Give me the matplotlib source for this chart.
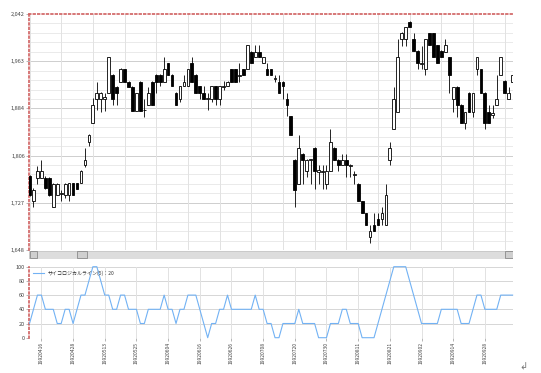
import numpy as np
import matplotlib
matplotlib.use('Agg')
import matplotlib.pyplot as plt
from matplotlib.patches import Rectangle

plt.rcParams['font.family'] = ['Noto Sans CJK JP', 'DejaVu Sans']

# daily candles
opens = [1771, 1729, 1769, 1769, 1769, 1769, 1720, 1740, 1741, 1740,
         1740, 1760, 1760, 1760, 1790, 1829, 1860, 1900, 1900, 1900,
         1910, 1940, 1920, 1929, 1950, 1929, 1920, 1880, 1929, 1881,
         1890, 1929, 1940, 1940, 1929, 1960, 1940, 1910, 1900, 1921,
         1921, 1960, 1940, 1921, 1910, 1900, 1900, 1921, 1900, 1920,
         1921, 1950, 1950, 1939, 1950, 1950, 1979, 1970, 1979, 1960,
         1950, 1950, 1934, 1929, 1929, 1900, 1871, 1799, 1759, 1809,
         1780, 1798, 1819, 1779, 1779, 1759, 1780, 1819, 1799, 1790,
         1799, 1789, 1774, 1759, 1729, 1709, 1670, 1690, 1700, 1700,
         1690, 1798, 1850, 1879, 2000, 2000, 2029, 2000, 1981, 1959,
         1950, 2010, 2010, 1990, 1981, 1979, 1970, 1900, 1920, 1890,
         1860, 1910, 1879, 1950, 1950, 1910, 1879, 1874, 1890, 1940,
         1930, 1900, 1929]
highs = [1773, 1752, 1788, 1798, 1772, 1770, 1760, 1760, 1748, 1760,
         1760, 1760, 1760, 1781, 1818, 1841, 1901, 1929, 1911, 1910,
         1970, 1941, 1921, 1952, 1951, 1930, 1921, 1910, 1930, 1900,
         1920, 1930, 1941, 1941, 1970, 1961, 1941, 1911, 1921, 1940,
         1950, 1970, 1941, 1922, 1921, 1910, 1921, 1922, 1921, 1930,
         1930, 1951, 1951, 1960, 1951, 1990, 1980, 1990, 1990, 1970,
         1960, 1951, 1940, 1940, 1930, 1910, 1872, 1800, 1840, 1810,
         1800, 1800, 1820, 1790, 1790, 1790, 1850, 1820, 1800, 1809,
         1809, 1791, 1780, 1760, 1730, 1710, 1690, 1709, 1709, 1720,
         1759, 1829, 1920, 2000, 2012, 2021, 2030, 2010, 1982, 1988,
         2000, 2011, 2011, 1991, 1982, 2000, 1971, 1920, 1921, 1891,
         1879, 1911, 1910, 1970, 1951, 1911, 1890, 1890, 1940, 1970,
         1931, 1920, 1940]
lows = [1738, 1720, 1759, 1769, 1750, 1738, 1720, 1740, 1729, 1734,
        1730, 1740, 1750, 1760, 1787, 1821, 1860, 1882, 1878, 1880,
        1910, 1890, 1890, 1929, 1929, 1920, 1880, 1880, 1880, 1870,
        1890, 1890, 1910, 1921, 1929, 1940, 1921, 1890, 1895, 1921,
        1921, 1929, 1910, 1900, 1900, 1881, 1895, 1890, 1890, 1915,
        1921, 1929, 1929, 1929, 1940, 1950, 1960, 1970, 1970, 1960,
        1940, 1940, 1929, 1910, 1900, 1871, 1840, 1720, 1759, 1759,
        1770, 1759, 1750, 1759, 1750, 1750, 1780, 1799, 1780, 1790,
        1770, 1770, 1759, 1729, 1709, 1690, 1660, 1680, 1690, 1690,
        1690, 1790, 1850, 1879, 1988, 1988, 2020, 1981, 1951, 1951,
        1940, 1990, 1970, 1960, 1970, 1979, 1910, 1879, 1870, 1860,
        1850, 1879, 1870, 1940, 1910, 1850, 1860, 1868, 1890, 1940,
        1910, 1900, 1929]
closes = [1740, 1749, 1780, 1780, 1751, 1740, 1759, 1759, 1743, 1759,
          1760, 1740, 1750, 1780, 1799, 1840, 1890, 1910, 1910, 1903,
          1970, 1900, 1910, 1950, 1929, 1920, 1880, 1910, 1880, 1882,
          1910, 1890, 1929, 1929, 1950, 1940, 1921, 1890, 1921, 1929,
          1950, 1929, 1910, 1910, 1900, 1902, 1921, 1900, 1921, 1922,
          1929, 1929, 1929, 1940, 1940, 1990, 1960, 1979, 1970, 1970,
          1940, 1940, 1935, 1910, 1921, 1890, 1840, 1748, 1819, 1799,
          1799, 1800, 1780, 1781, 1780, 1780, 1829, 1799, 1790, 1799,
          1790, 1790, 1775, 1729, 1709, 1690, 1680, 1680, 1690, 1709,
          1740, 1818, 1900, 1970, 2010, 2020, 2020, 1981, 1960, 1960,
          2000, 1990, 1970, 1960, 1970, 1990, 1940, 1920, 1890, 1860,
          1879, 1879, 1910, 1970, 1910, 1860, 1860, 1876, 1900, 1970,
          1910, 1910, 1940]

# psychological line (5)
psy = [20, 40, 60, 60, 40, 40, 40, 20, 20, 40,
       40, 20, 40, 60, 60, 80, 100, 100, 80, 60,
       60, 40, 40, 60, 60, 40, 40, 40, 20, 20,
       40, 40, 40, 40, 60, 40, 40, 20, 40, 40,
       60, 60, 60, 40, 20, 0, 20, 20, 40, 40,
       60, 40, 40, 40, 40, 40, 40, 60, 40, 40,
       20, 20, 0, 0, 20, 20, 20, 20, 40, 20,
       20, 20, 20, 0, 0, 0, 20, 20, 20, 40,
       40, 20, 20, 20, 0, 0, 0, 0, 20, 40,
       60, 80, 100, 100, 100, 100, 80, 60, 40, 20,
       20, 20, 20, 20, 40, 40, 40, 40, 40, 20,
       20, 20, 40, 60, 60, 40, 40, 40, 40, 60,
       60, 60, 60]

tick_dates = ['19920416', '19920428', '19920513', '19920525', '19920604',
              '19920616', '19920626', '19920708', '19920720', '19920730',
              '19920811', '19920821', '19920902', '19920914', '19920928']
price_ticks = [1648, 1726.8, 1805.6, 1884.4, 1963.2, 2042]
psy_ticks = [0, 20, 40, 60, 80, 100]

W, H = 541, 373
fig = plt.figure(figsize=(W / 100, H / 100), dpi=100)
fig.patch.set_facecolor('white')

def pos(x0, y0, x1, y1):
    return [x0 / W, 1 - y1 / H, (x1 - x0) / W, (y1 - y0) / H]

n = len(closes)
xx = np.arange(n)
xlim = (-0.13, 122.1)
tick_idx = [3 + 8 * k for k in range(len(tick_dates))]
txt_col = '#444444'
red = '#d06060'

# ---- price panel
ax = fig.add_axes(pos(29, 14, 513, 250))
ax.set_xlim(*xlim)
ax.set_ylim(price_ticks[0], price_ticks[-1])
for v in np.linspace(price_ticks[0], price_ticks[-1], 26)[1:-1]:
    ax.axhline(v, color='#e6e6e6', lw=0.6, zorder=0)
for v in price_ticks[1:-1]:
    ax.axhline(v, color='#cfcfcf', lw=0.7, zorder=0)
for i in range(0, n, 8):
    ax.axvline(i, color='#e2e2e2', lw=0.7, zorder=0)

o = np.array(opens, float)
c = np.array(closes, float)
up = c >= o
ax.vlines(xx, lows, highs, color='black', lw=0.6, zorder=2)
bottoms = np.minimum(o, c)
heights = np.maximum(np.abs(c - o), 1.0)
ax.bar(xx, heights, bottom=bottoms, width=0.7,
       color=np.where(up, 'white', 'black'), edgecolor='black', lw=0.6, zorder=3)

ax.set_xticks([])
ax.set_yticks(price_ticks)
ax.set_yticklabels(['{:,}'.format(int(round(v))) for v in price_ticks])
ax.tick_params(axis='y', labelsize=4, colors='#999999', labelcolor=txt_col,
               length=2, width=0.5, pad=1)
for s in ['right', 'bottom']:
    ax.spines[s].set_visible(False)
for s in ['left', 'top']:
    ax.spines[s].set_color(red)
    ax.spines[s].set_linestyle(':')
    ax.spines[s].set_linewidth(1.2)

# ---- scroll bar
sb = fig.add_axes(pos(29, 250, 513, 259))
sb.set_xlim(29, 513)
sb.set_ylim(9, 0)
sb.axis('off')
sb.add_patch(Rectangle((29, 0.5), 484, 8, fc='#dddddd', ec='#c4c4c4', lw=0.6))
for bx0, bx1 in [(30, 37), (77, 87), (505, 513)]:
    sb.add_patch(Rectangle((bx0, 1), bx1 - bx0, 7, fc='#cfcfcf', ec='#8a8a8a', lw=0.6))

# ---- oscillator panel
ax2 = fig.add_axes(pos(29, 266.7, 513, 337.7))
ax2.set_xlim(*xlim)
ax2.set_ylim(0, 100)
for v in psy_ticks:
    ax2.axhline(v, color='#d6d6d6', lw=0.7, zorder=0)
for i in tick_idx:
    ax2.axvline(i, color='#e2e2e2', lw=0.7, zorder=0)
ax2.plot(xx, psy, color='#72b2f4', lw=0.8, clip_on=False, zorder=3,
         label='サイコロジカルライン(5)：20')
leg = ax2.legend(loc='upper left', frameon=False, fontsize=3.6, handlelength=2.2,
                 borderaxespad=0.3, bbox_to_anchor=(0.0, 1.0))
for t in leg.get_texts():
    t.set_color('#333333')

ax2.set_yticks(psy_ticks)
ax2.set_xticks(tick_idx)
ax2.set_xticklabels(tick_dates, rotation=90)
ax2.tick_params(axis='y', labelsize=4, colors='#999999', labelcolor=txt_col,
                length=2, width=0.5, pad=1)
ax2.tick_params(axis='x', labelsize=3.6, colors='#999999', labelcolor=txt_col,
                length=2, width=0.5, pad=1)
for s in ['right', 'top', 'bottom']:
    ax2.spines[s].set_visible(False)
ax2.spines['left'].set_color(red)
ax2.spines['left'].set_linestyle(':')
ax2.spines['left'].set_linewidth(1.2)

fig.text(523 / W, 1 - 366 / H, '↲', fontsize=7, color='#777777',
         ha='center', va='center', family=['DejaVu Sans'])

fig.savefig('out.png', dpi=100)
